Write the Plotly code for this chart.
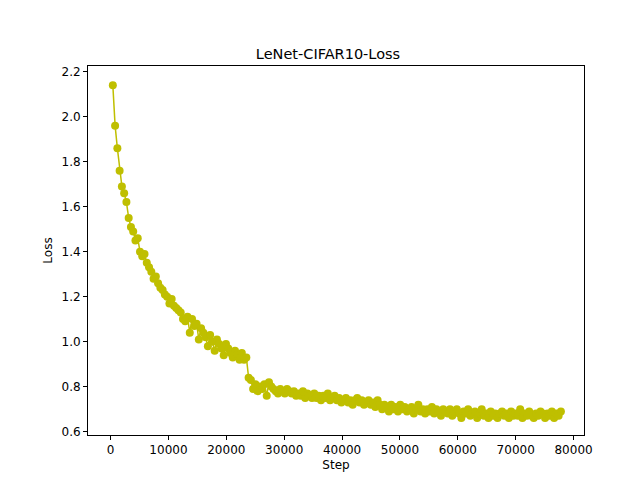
import plotly.graph_objects as go

loss = [2.14,1.96,1.86,1.76,1.69,1.66,1.62,1.55,1.51,1.49,
1.45,1.46,1.40,1.38,1.39,1.35,1.33,1.31,1.28,1.29,
1.26,1.24,1.23,1.21,1.20,1.17,1.19,1.16,1.15,1.14,
1.13,1.10,1.09,1.11,1.04,1.10,1.07,1.08,1.01,1.06,
1.04,1.02,0.98,1.03,1.00,0.96,1.01,0.99,0.97,0.94,
0.99,0.97,0.95,0.93,0.96,0.94,0.92,0.95,0.92,0.93,
0.84,0.83,0.79,0.81,0.78,0.80,0.79,0.81,0.76,0.82,
0.80,0.79,0.78,0.77,0.79,0.78,0.77,0.79,0.78,0.77,
0.78,0.76,0.77,0.76,0.78,0.75,0.77,0.76,0.75,0.77,
0.75,0.76,0.74,0.76,0.75,0.77,0.74,0.75,0.76,0.74,
0.75,0.73,0.74,0.75,0.73,0.74,0.72,0.74,0.75,0.73,
0.74,0.72,0.73,0.74,0.72,0.73,0.71,0.74,0.72,0.70,
0.72,0.71,0.69,0.72,0.70,0.71,0.69,0.72,0.70,0.71,
0.69,0.70,0.71,0.68,0.70,0.72,0.69,0.70,0.68,0.70,
0.69,0.71,0.68,0.70,0.69,0.67,0.70,0.69,0.68,0.70,
0.67,0.69,0.70,0.68,0.66,0.69,0.68,0.70,0.67,0.68,
0.69,0.66,0.68,0.70,0.67,0.68,0.66,0.69,0.67,0.68,
0.66,0.68,0.69,0.67,0.68,0.66,0.69,0.67,0.68,0.67,
0.70,0.66,0.68,0.67,0.69,0.67,0.66,0.68,0.67,0.69,
0.68,0.66,0.68,0.67,0.69,0.66,0.68,0.67,0.69]
steps = list(range(391, 391 * (len(loss) + 1), 391))

x_ticks = [0, 10000, 20000, 30000, 40000, 50000, 60000, 70000, 80000]
y_ticks = [0.6, 0.8, 1.0, 1.2, 1.4, 1.6, 1.8, 2.0, 2.2]

fig = go.Figure(go.Scatter(x=steps, y=loss, mode="lines+markers",
    line=dict(color="#bfbf00", width=1.5),
    marker=dict(color="#bfbf00", size=8)))

ax = dict(showline=True, linecolor="black", mirror=True, ticks="outside",
          ticklen=4, tickcolor="black", showgrid=False, zeroline=False,
          automargin=False, tickfont=dict(size=12, color="black"))
fig.update_layout(
    width=640, height=480, paper_bgcolor="white", plot_bgcolor="white",
    font=dict(family="DejaVu Sans", color="black"),
    title=dict(text="LeNet-CIFAR10-Loss", x=0.5, xanchor="center", y=0.915, font=dict(size=14.5)),
    margin=dict(l=80, r=64, t=58, b=53, autoexpand=False), showlegend=False,
    xaxis=dict(ax, range=[-3900, 81800], tickvals=x_ticks,
               ticktext=[str(v) for v in x_ticks], title=dict(text="Step", font=dict(size=12), standoff=4)),
    yaxis=dict(ax, range=[0.585, 2.225], tickvals=y_ticks,
               ticktext=[f"{v:.1f}" for v in y_ticks], title=dict(text="Loss", font=dict(size=12), standoff=6)),
)
fig.write_html("out.html")
